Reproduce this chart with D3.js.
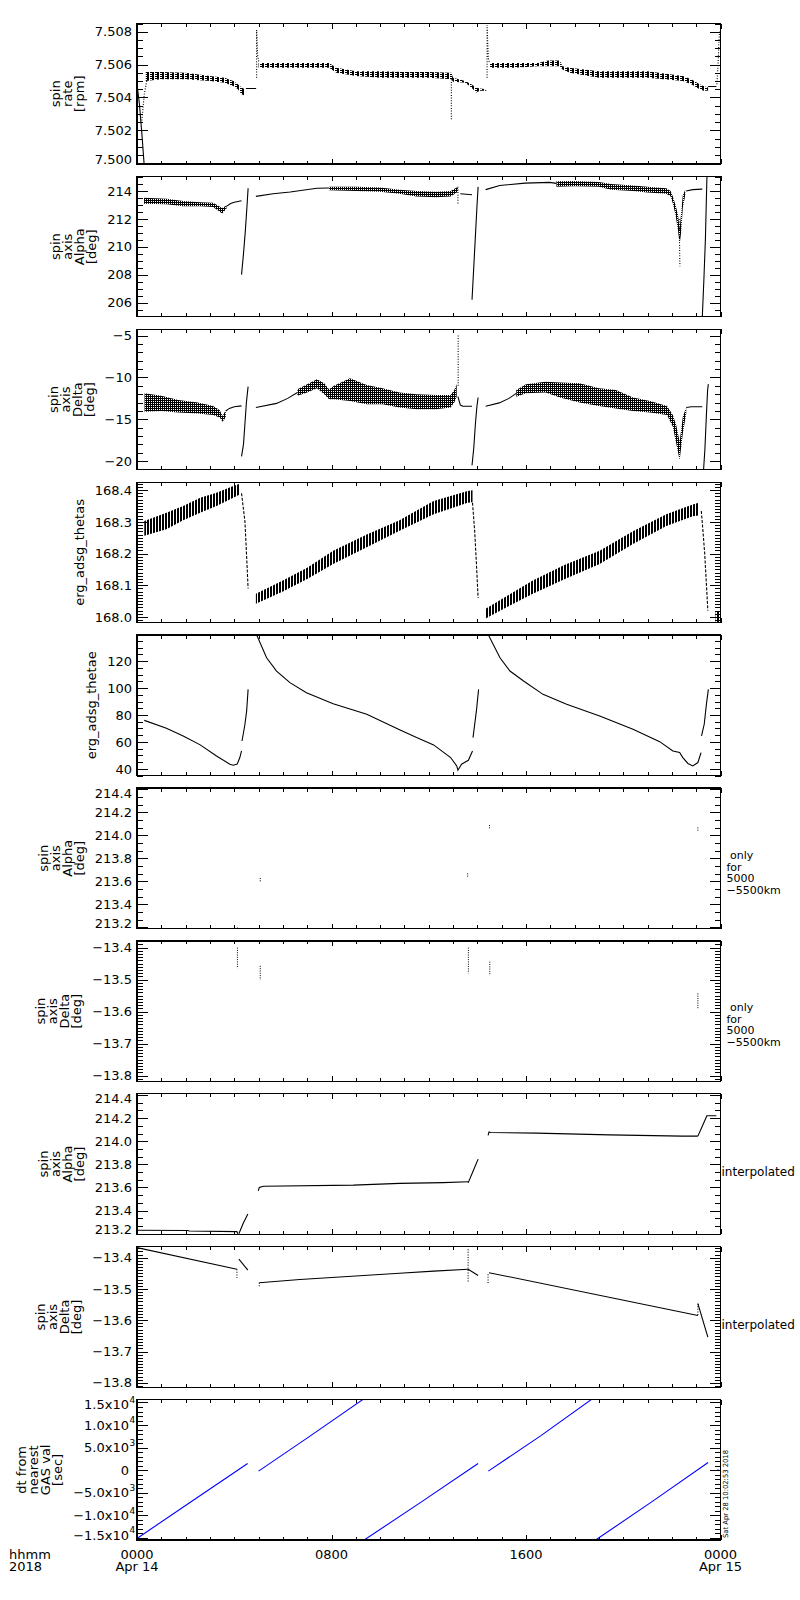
<!DOCTYPE html>
<html>
<head>
<meta charset="utf-8">
<script src="https://cdn.jsdelivr.net/npm/d3@7"></script>
<style>
	body { margin: 0; background: #fff; }
	svg { display: block; font-family: "DejaVu Sans", sans-serif; }
</style>
</head>
<body>
<div id="chart"></div>
<script>
// ---- data (time in hours of 2018-04-14) ----

// spin rate [rpm]: bands are [t, lo, hi], lines/dots are [t, v]
const rateBands = [
	[[0.36,7.5050,7.50555],[1.0,7.5051,7.50555],[2.0,7.5051,7.5055],[3.0,7.5050,7.5053],[3.6,7.5049,7.5052],[3.96,7.5047,7.5050],[4.15,7.5045,7.5048],[4.3,7.5042,7.5046],[4.44,7.5041,7.5045]],
	[[5.0,7.5058,7.5061],[6.0,7.5058,7.5061],[7.0,7.5058,7.5061],[7.9,7.5058,7.5061],[8.2,7.5055,7.5058],[9.0,7.5053,7.5056],[10.0,7.5052,7.5056],[11.0,7.5052,7.50555],[12.0,7.5052,7.50555],[12.93,7.5051,7.5055],[13.0,7.50495,7.5052],[13.5,7.5049,7.5050],[13.75,7.5046,7.5048],[13.95,7.5043,7.5046],[14.1,7.5044,7.50455],[14.37,7.5044,7.5045]],
	[[14.5,7.5058,7.5061],[15.5,7.5058,7.5061],[16.5,7.5059,7.5061],[16.9,7.5059,7.50625],[17.39,7.5059,7.50625],[17.5,7.5057,7.5059],[17.8,7.5055,7.5058],[19.0,7.5052,7.5056],[20.0,7.5052,7.5056],[21.0,7.5052,7.5056],[22.45,7.5050,7.5053],[22.8,7.5048,7.5051],[23.14,7.5045,7.5048],[23.3,7.5044,7.5047],[23.49,7.5044,7.5046]]
];
const rateLines = [
	[[0.0,7.5048],[0.1,7.5036],[0.2,7.5018],[0.3,7.4998]],
	[[4.48,7.50454],[4.9,7.50454]],
	[[23.49,7.50467],[23.83,7.50467]]
];
const rateDots = [
	[[0.2,7.5026],[0.3,7.5042],[0.4,7.5050]],
	[[4.92,7.5052],[4.92,7.5081],[4.96,7.5066],[5.02,7.5061]],
	[[12.93,7.5051],[12.93,7.50265]],
	[[14.4,7.5052],[14.4,7.5084],[14.45,7.5064],[14.5,7.5061]],
	[[23.85,7.5048],[23.9,7.5060],[23.93,7.5072],[23.96,7.5080]]
];

// spin axis Alpha [deg]
const alphaBands = [
	[[0.29,213.09,213.52],[1.21,213.05,213.45],[1.9,212.9,213.28],[2.6,212.9,213.2],[3.13,212.85,213.16],[3.5,212.38,212.78],[3.68,212.73,212.97]],
	[[7.9,214.05,214.3],[9.0,214.0,214.3],[10.0,213.95,214.25],[10.8,213.8,214.1],[11.5,213.6,214.0],[12.3,213.55,213.95],[12.9,213.6,214.0],[13.2,213.95,214.3]],
	[[17.25,214.3,214.7],[18.0,214.35,214.72],[19.0,214.3,214.65],[19.5,214.1,214.5],[20.4,214.0,214.4],[21.0,213.9,214.3],[21.77,213.8,214.2],[21.95,213.6,214.0],[22.04,213.1,213.6],[22.15,212.3,213.0],[22.25,211.2,212.3],[22.32,210.2,211.3],[22.38,211.0,212.4],[22.45,212.8,213.7],[22.55,213.7,214.1]]
];
const alphaLines = [
	[[3.68,212.9],[3.85,213.1],[4.0,213.2],[4.3,213.3]],
	[[4.30,208.0],[4.38,209.5],[4.45,211.0],[4.52,212.8],[4.57,214.2]],
	[[4.89,213.62],[5.6,213.8],[6.3,213.93],[7.4,214.2],[7.9,214.22]],
	[[13.3,213.8],[13.78,213.73]],
	[[13.78,206.2],[13.85,208.5],[13.92,210.8],[13.98,212.8],[14.03,214.3]],
	[[14.34,214.1],[14.92,214.4],[15.96,214.57],[16.97,214.62],[17.25,214.55]],
	[[22.59,214.0],[22.86,214.1],[23.25,214.14]],
	[[23.25,204.9],[23.32,207.8],[23.38,210.6],[23.44,214.9],[23.46,215.2]]
];
const alphaDots = [
	[[13.2,214.3],[13.2,213.1]],
	[[22.3,212.0],[22.33,208.6]]
];

// spin axis Delta [deg]
const deltaBands = [
	[[0.31,-14.1,-11.9],[1.0,-14.0,-12.2],[1.7,-14.2,-12.7],[2.5,-14.3,-13.0],[3.13,-14.5,-13.4],[3.4,-14.8,-13.9],[3.52,-15.3,-14.6],[3.65,-14.8,-13.9]],
	[[6.6,-12.2,-11.4],[7.0,-11.8,-10.8],[7.4,-11.3,-10.2],[7.7,-12.0,-10.7],[7.9,-12.6,-11.4],[8.1,-12.6,-11.0],[8.76,-12.8,-10.1],[9.45,-13.2,-10.9],[10.1,-13.2,-11.3],[10.8,-13.6,-11.8],[11.5,-13.8,-12.0],[12.3,-13.8,-12.1],[12.9,-13.6,-12.1],[13.05,-13.0,-11.5],[13.15,-12.3,-10.8]],
	[[15.6,-12.3,-11.5],[16.0,-11.9,-10.8],[16.8,-11.8,-10.5],[17.4,-12.4,-10.6],[18.2,-13.0,-10.7],[19.0,-13.4,-11.3],[19.7,-13.7,-11.5],[20.4,-14.0,-12.4],[21.1,-14.2,-12.8],[21.8,-14.5,-13.4],[22.04,-15.9,-14.5],[22.18,-17.9,-15.7],[22.32,-19.9,-17.7],[22.45,-16.7,-14.7],[22.59,-14.3,-13.6]]
];
const deltaLines = [
	[[3.65,-14.0],[3.8,-13.7],[4.0,-13.5],[4.3,-13.4]],
	[[4.30,-19.44],[4.38,-18.0],[4.44,-15.5],[4.5,-13.0],[4.57,-11.1]],
	[[4.89,-13.6],[5.74,-13.1],[6.2,-12.5],[6.6,-11.8]],
	[[13.2,-12.3],[13.3,-13.3],[13.4,-13.44],[13.78,-13.44]],
	[[13.78,-20.5],[13.85,-18.5],[13.92,-15.5],[13.98,-13.5],[14.03,-12.4]],
	[[14.34,-13.44],[14.9,-13.04],[15.3,-12.5],[15.6,-11.9]],
	[[22.59,-13.6],[22.8,-13.5],[23.25,-13.5]],
	[[23.3,-21.2],[23.36,-18.5],[23.42,-14.5],[23.47,-11.5],[23.5,-10.8]]
];
const deltaDots = [
	[[13.21,-11.0],[13.21,-4.9]]
];

// erg_adsg_thetas
const thetasBands = [
	[[0.3,168.256,168.303],[1.21,168.277,168.329],[1.9,168.305,168.35],[2.6,168.329,168.376],[3.27,168.35,168.392],[3.96,168.376,168.413],[4.23,168.386,168.42]],
	[[4.89,168.042,168.073],[6.0,168.08,168.115],[7.0,168.12,168.155],[8.07,168.167,168.209],[9.45,168.22,168.26],[10.8,168.272,168.305],[12.2,168.324,168.366],[13.6,168.36,168.397],[13.8,168.362,168.4]],
	[[14.34,167.995,168.026],[15.3,168.035,168.07],[16.28,168.073,168.115],[17.6,168.12,168.165],[19.03,168.167,168.209],[20.4,168.23,168.27],[21.77,168.287,168.324],[22.86,168.318,168.355],[23.1,168.32,168.36]],
	[[23.8,167.984,168.016],[24.0,167.984,168.016]]
];
const thetasLines = [
	[[4.3,168.39],[4.44,168.30],[4.51,168.19],[4.57,168.09]],
	[[13.8,168.36],[13.89,168.27],[13.96,168.17],[14.03,168.06]],
	[[23.21,168.334],[23.28,168.27],[23.35,168.2],[23.42,168.104],[23.48,168.02]]
];

// erg_adsg_thetae
const thetaeLines = [
	[[0.3,76.0],[1.21,70.1],[1.9,64.4],[2.6,57.8],[3.27,49.6],[3.82,43.5],[3.96,42.7],[4.12,43.5],[4.23,48.4],[4.3,53.3]],
	[[4.32,60.7],[4.44,73.1],[4.51,83.0],[4.57,99.0]],
	[[4.92,139.5],[5.33,122.5],[5.74,112.6],[6.29,104.0],[6.97,96.5],[8.07,88.4],[9.45,80.5],[10.8,69.0],[11.5,63.2],[12.2,57.8],[12.9,48.4],[13.15,42.2],[13.2,39.0],[13.35,43.5],[13.63,46.4],[13.8,53.3]],
	[[13.82,63.2],[13.89,73.1],[13.96,83.0],[14.05,99.0]],
	[[14.45,139.5],[14.93,122.5],[15.34,112.6],[15.9,105.2],[16.7,95.3],[17.67,88.0],[19.03,79.3],[20.4,69.4],[21.5,60.2],[22.04,53.3],[22.32,52.1],[22.45,48.4],[22.66,44.0],[22.86,42.2],[23.07,44.7],[23.2,52.1]],
	[[23.22,64.4],[23.33,73.1],[23.42,87.9],[23.5,99.0]]
];

// only for 5000-5500km: short vertical marks [t, v1, v2]
const alphaOnlyMarks = [[4.13,213.19,213.21],[5.07,213.6,213.63],[13.6,213.64,213.68],[14.5,214.06,214.1],[23.07,214.04,214.08]];
const deltaOnlyMarks = [[4.13,-13.40,-13.465],[5.07,-13.457,-13.501],[13.63,-13.40,-13.48],[14.51,-13.444,-13.486],[23.07,-13.543,-13.59]];

// interpolated
const alphaInterpLines = [
	[[0,213.23],[2.1,213.228],[2.15,213.224],[4.11,213.218],[4.15,213.2]],
	[[4.19,213.2],[4.37,213.29],[4.56,213.37]],
	[[4.99,213.57],[5.03,213.6],[5.2,213.61],[8.9,213.62],[10.8,213.635],[12.59,213.642],[13.62,213.65]],
	[[13.62,213.64],[13.8,213.73],[14.03,213.845]],
	[[14.44,214.05],[14.48,214.08],[14.55,214.075],[16.43,214.07],[19.44,214.055],[22.43,214.044],[23.07,214.044]],
	[[23.07,214.044],[23.25,214.13],[23.44,214.22],[23.83,214.22]]
];
const deltaInterpLines = [
	[[0,-13.368],[4.11,-13.437]],
	[[4.19,-13.405],[4.56,-13.44]],
	[[5.03,-13.48],[6.7,-13.47],[10.8,-13.45],[12.2,-13.443],[13.62,-13.437]],
	[[13.62,-13.437],[14.03,-13.457]],
	[[14.48,-13.448],[23.07,-13.585]],
	[[23.07,-13.547],[23.48,-13.654]]
];
const deltaInterpDots = [
	[[4.11,-13.437],[4.11,-13.464]],
	[[5.03,-13.48],[5.03,-13.496]],
	[[13.62,-13.373],[13.62,-13.48]],
	[[14.44,-13.453],[14.44,-13.485]],
	[[23.07,-13.547],[23.07,-13.585]]
];

// dt from nearest GAS val [sec]
const dtLines = [
	[[0,-15100],[2.3,-6700],[4.55,1500]],
	[[5.0,-200],[7.1,7500],[9.3,15700]],
	[[9.33,-15500],[11.7,-7000],[14.03,1500]],
	[[14.45,-200],[16.6,7600],[18.7,15700]],
	[[18.85,-15500],[21.2,-6900],[23.49,1700]]
];
const dtPoints = [[23.9,0]];

// axis ranges and tick labels
const rateDomain = [7.49995, 7.5085];
const alphaDomain = [204.97, 215.05];
const deltaDomain = [-21.04, -4.24];
const thetasDomain = [167.982, 168.425];
const thetaeDomain = [35.0, 139.3];
const alphaOnlyDomain = [213.19, 214.41];
const deltaOnlyDomain = [-13.818, -13.379];
const alphaInterpDomain = [213.195, 214.41];
const deltaInterpDomain = [-13.814, -13.365];
const dtDomain = [-15470, 15640];

const rateTicks = [7.500, 7.502, 7.504, 7.506, 7.508];
const alphaTicks = [206, 208, 210, 212, 214];
const deltaTicks = [-20, -15, -10, -5];
const thetasTicks = [168.0, 168.1, 168.2, 168.3, 168.4];
const thetaeTicks = [40, 60, 80, 100, 120];
const alphaNarrowTicks = [213.2, 213.4, 213.6, 213.8, 214.0, 214.2, 214.4];
const deltaNarrowTicks = [-13.8, -13.7, -13.6, -13.5, -13.4];
const dtTicks = [-15000, -10000, -5000, 0, 5000, 10000, 15000];

const xTickHours = [0, 8, 16, 24];
const xTickTimes = ["0000", "0800", "1600", "0000"];
const xTickDates = ["Apr 14", "", "", "Apr 15"];

const alphaTitle = ["spin", "axis", "Alpha", "[deg]"];
const deltaTitle = ["spin", "axis", "Delta", "[deg]"];
const onlyNote = [" only", "for", "5000", "\u22125500km"];

// ---- layout ----
const width = 800, height = 1600;
const plotLeft = 137, plotRight = 720.5;
const panelTop0 = 23.5, panelPitch = 152.9, panelH = 140.5;

const svg = d3.select("#chart").append("svg")
	.attr("width", width)
	.attr("height", height);
svg.append("rect").attr("width", width).attr("height", height).attr("fill", "#fff");

const defs = svg.append("defs");
function addPattern(id, w, h, cells) {
	const pat = defs.append("pattern")
		.attr("id", id)
		.attr("patternUnits", "userSpaceOnUse")
		.attr("width", w)
		.attr("height", h);
	cells.forEach(c => pat.append("rect")
		.attr("x", c[0]).attr("y", c[1]).attr("width", c[2]).attr("height", c[3])
		.attr("fill", "#000"));
}
addPattern("hdash", 5, 2, [[0, 0, 4, 1], [2, 1, 2, 1]]);
addPattern("dense", 2, 2, [[0, 0, 2, 1], [0, 1, 1, 1]]);
addPattern("vhatch", 3, 1, [[0, 0, 2, 1]]);

const x = d3.scaleLinear().domain([0, 24]).range([plotLeft, plotRight]);
const hourTicks = d3.range(0, 25);
const minorHours = hourTicks.filter(h => h % 8);

const panels = [
	{ title: ["spin", "rate", "[rpm]"], domain: rateDomain, ticks: rateTicks, minor: 0.0005, fmt: d3.format(".3f"), bands: rateBands, pattern: "hdash", lines: rateLines, dots: rateDots },
	{ title: alphaTitle, domain: alphaDomain, ticks: alphaTicks, minor: 0.5, fmt: d3.format("d"), bands: alphaBands, pattern: "dense", lines: alphaLines, dots: alphaDots },
	{ title: deltaTitle, domain: deltaDomain, ticks: deltaTicks, minor: 1, fmt: d3.format("d"), bands: deltaBands, pattern: "dense", lines: deltaLines, dots: deltaDots },
	{ title: ["erg_adsg_thetas"], domain: thetasDomain, ticks: thetasTicks, minor: 0.01, fmt: d3.format(".1f"), bands: thetasBands, pattern: "vhatch", lines: thetasLines, dash: "3,1.5" },
	{ title: ["erg_adsg_thetae"], domain: thetaeDomain, ticks: thetaeTicks, minor: 5, fmt: d3.format("d"), lines: thetaeLines },
	{ title: alphaTitle, domain: alphaOnlyDomain, ticks: alphaNarrowTicks, minor: 0.2 / 3, fmt: d3.format(".1f"), marks: alphaOnlyMarks, note: onlyNote, noteX: 726.5, noteDy: 1 },
	{ title: deltaTitle, domain: deltaOnlyDomain, ticks: deltaNarrowTicks, minor: 0.01, fmt: d3.format(".1f"), marks: deltaOnlyMarks, note: onlyNote, noteX: 726.5, noteDy: 0 },
	{ title: alphaTitle, domain: alphaInterpDomain, ticks: alphaNarrowTicks, minor: 0.2 / 3, fmt: d3.format(".1f"), lines: alphaInterpLines, note: ["interpolated"], noteX: 721.5, noteDy: 11.5, noteSize: 12 },
	{ title: deltaTitle, domain: deltaInterpDomain, ticks: deltaNarrowTicks, minor: 0.01, fmt: d3.format(".1f"), lines: deltaInterpLines, dots: deltaInterpDots, note: ["interpolated"], noteX: 721.5, noteDy: 12, noteSize: 12 },
	{ title: ["dt from", "nearest", "GAS val", "[sec]"], domain: dtDomain, ticks: dtTicks, minor: 1000, lines: dtLines, points: dtPoints, color: "#0000ff", sci: true }
];

function cleanAxis(g) {
	g.select(".domain").remove();
	g.selectAll(".tick line").attr("stroke", "#000").attr("shape-rendering", "crispEdges");
	g.attr("font-family", null).attr("font-size", 13);
	g.selectAll(".tick text").attr("fill", "#000");
}

function sciParts(v) {
	if (v === 0) return ["0", ""];
	const exp = Math.abs(v) >= 10000 ? 4 : 3;
	const m = v / Math.pow(10, exp);
	return [(m < 0 ? "\u2212" : "") + Math.abs(m).toFixed(1) + "x10", String(exp)];
}

panels.forEach((p, i) => {
	const top = panelTop0 + i * panelPitch;
	const bottom = top + panelH;
	const y = d3.scaleLinear().domain(p.domain).range([bottom, top]);
	const color = p.color || "#000";

	defs.append("clipPath").attr("id", "clip" + i)
		.append("rect")
		.attr("x", plotLeft).attr("y", top)
		.attr("width", plotRight - plotLeft).attr("height", panelH);
	const plot = svg.append("g").attr("clip-path", `url(#clip${i})`);

	const area = d3.area().x(d => x(d[0])).y0(d => y(d[1])).y1(d => y(d[2]));
	const line = d3.line().x(d => x(d[0])).y(d => y(d[1]));

	(p.bands || []).forEach(b => {
		plot.append("path").datum(b)
			.attr("d", area)
			.attr("fill", `url(#${p.pattern})`);
	});
	(p.lines || []).forEach(l => {
		plot.append("path").datum(l)
			.attr("d", line)
			.attr("fill", "none")
			.attr("stroke", color)
			.attr("stroke-width", 1.1)
			.attr("stroke-dasharray", p.dash || null);
	});
	(p.dots || []).forEach(l => {
		plot.append("path").datum(l)
			.attr("d", line)
			.attr("fill", "none")
			.attr("stroke", color)
			.attr("stroke-width", 1.1)
			.attr("stroke-dasharray", "1,1.6");
	});
	plot.selectAll(".mark").data(p.marks || []).enter().append("line")
		.attr("x1", d => x(d[0])).attr("x2", d => x(d[0]))
		.attr("y1", d => y(d[1])).attr("y2", d => y(d[2]))
		.attr("stroke", "#000")
		.attr("stroke-width", 1)
		.attr("stroke-dasharray", "1,1.3");
	plot.selectAll(".pt").data(p.points || []).enter().append("rect")
		.attr("x", d => x(d[0]) - 0.75).attr("y", d => y(d[1]) - 0.75)
		.attr("width", 1.5).attr("height", 1.5)
		.attr("fill", color);

	// frame
	svg.append("rect")
		.attr("x", plotLeft).attr("y", top)
		.attr("width", plotRight - plotLeft).attr("height", panelH)
		.attr("fill", "none").attr("stroke", "#000").attr("stroke-width", 1.2)
		.attr("shape-rendering", "crispEdges");

	// time ticks, top and bottom, pointing in
	svg.append("g").attr("transform", `translate(0,${top})`)
		.call(d3.axisTop(x).tickValues(minorHours).tickSize(-3.5).tickFormat("")).call(cleanAxis);
	svg.append("g").attr("transform", `translate(0,${top})`)
		.call(d3.axisTop(x).tickValues(xTickHours).tickSize(-5).tickFormat("")).call(cleanAxis);
	svg.append("g").attr("transform", `translate(0,${bottom})`)
		.call(d3.axisBottom(x).tickValues(minorHours).tickSize(-3.5).tickFormat("")).call(cleanAxis);
	svg.append("g").attr("transform", `translate(0,${bottom})`)
		.call(d3.axisBottom(x).tickValues(xTickHours).tickSize(-5).tickFormat("")).call(cleanAxis);

	// value ticks
	const k0 = Math.ceil(p.domain[0] / p.minor - 1e-6), k1 = Math.floor(p.domain[1] / p.minor + 1e-6);
	const minors = d3.range(k0, k1 + 1).map(k => k * p.minor);

	svg.append("g").attr("transform", `translate(${plotLeft},0)`)
		.call(d3.axisLeft(y).tickValues(minors).tickSize(-6).tickFormat("")).call(cleanAxis);
	svg.append("g").attr("transform", `translate(${plotRight},0)`)
		.call(d3.axisRight(y).tickValues(minors).tickSize(-6).tickFormat("")).call(cleanAxis);
	svg.append("g").attr("transform", `translate(${plotRight},0)`)
		.call(d3.axisRight(y).tickValues(p.ticks).tickSize(-11).tickFormat("")).call(cleanAxis);

	const left = svg.append("g").attr("transform", `translate(${plotLeft},0)`)
		.call(d3.axisLeft(y).tickValues(p.ticks).tickSize(-11).tickPadding(5)
			.tickFormat(p.sci ? "" : p.fmt))
		.call(cleanAxis);

	// keep the end labels inside the panel height
	const shift = d => {
		const yy = y(d);
		return Math.max(top + 5, Math.min(bottom - 5, yy)) - yy;
	};
	if (p.sci) {
		left.selectAll(".tick").each(function (d) {
			const [main, exp] = sciParts(d);
			const t = d3.select(this);
			t.select("text").remove();
			t.append("text")
				.attr("x", -8).attr("y", shift(d)).attr("dy", "0.32em")
				.attr("text-anchor", "end").attr("fill", "#000")
				.text(main);
			if (exp) {
				t.append("text")
					.attr("x", -7.5).attr("y", shift(d) - 5).attr("dy", "0.32em")
					.attr("text-anchor", "start").attr("font-size", 9).attr("fill", "#000")
					.text(exp);
			}
		});
	} else {
		left.selectAll(".tick text").attr("transform", d => `translate(0,${shift(d)})`);
	}

	// stacked y title, right edge a little left of the tick labels
	const bb = left.node().getBBox();
	const labelLeft = plotLeft + bb.x;
	const n = p.title.length;
	const gx = labelLeft - 11 - 12 * (n - 1);
	const title = svg.append("text")
		.attr("transform", `translate(${gx},${(top + bottom) / 2}) rotate(-90)`)
		.attr("text-anchor", "middle")
		.attr("font-size", 13)
		.attr("fill", "#000");
	p.title.forEach((s, k) => title.append("tspan").attr("x", 0).attr("dy", k === 0 ? 0 : 12).text(s));

	// right-hand note
	if (p.note) {
		const note = svg.append("text")
			.attr("x", p.noteX)
			.attr("y", (top + bottom) / 2 + p.noteDy)
			.attr("font-size", p.noteSize || 11)
			.attr("fill", "#000")
			.style("white-space", "pre");
		p.note.forEach((s, k) => note.append("tspan").attr("x", p.noteX).attr("dy", k === 0 ? 0 : 11.5).text(s));
	}
});

// time labels under the last panel
const xl = svg.append("g").attr("font-size", 13).attr("fill", "#000");
xl.selectAll(".tt").data(xTickHours).enter().append("text")
	.attr("x", d => x(d)).attr("y", 1558.5).attr("text-anchor", "middle")
	.text((d, i) => xTickTimes[i]);
xl.selectAll(".td").data(xTickHours).enter().append("text")
	.attr("x", d => x(d)).attr("y", 1570.5).attr("text-anchor", "middle")
	.text((d, i) => xTickDates[i]);
xl.append("text").attr("x", 9).attr("y", 1558.5).text("hhmm");
xl.append("text").attr("x", 9).attr("y", 1570.5).text("2018");

// creation stamp
svg.append("text")
	.attr("transform", "translate(727.5,1538) rotate(-90)")
	.attr("font-size", 7)
	.attr("textLength", 88)
	.attr("lengthAdjust", "spacingAndGlyphs")
	.attr("fill", "#000")
	.text("Sat Apr 28 10:02:53 2018");
</script>
</body>
</html>
